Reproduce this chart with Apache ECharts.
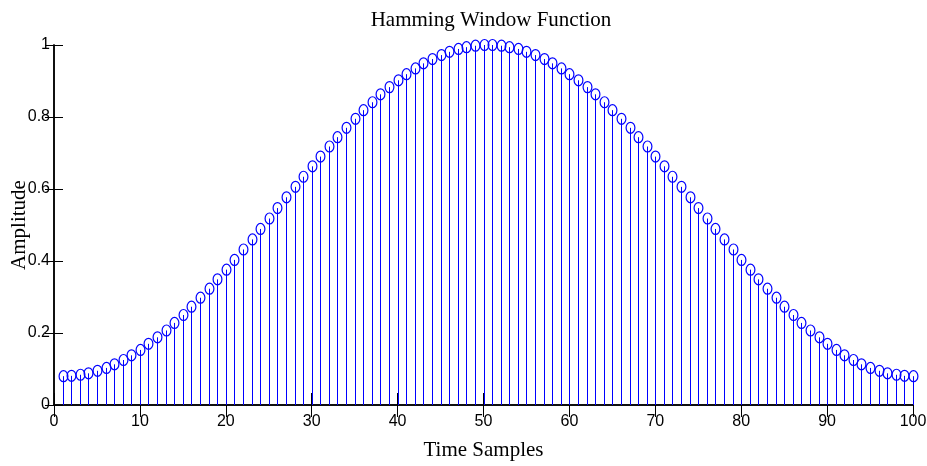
<!DOCTYPE html>
<html>
<head>
<meta charset="utf-8">
<script src="https://cdn.jsdelivr.net/npm/echarts@6/dist/echarts.min.js"></script>
<style>
html,body{margin:0;padding:0;background:#fff;}
#chart{width:927px;height:466px;}
</style>
</head>
<body>
<div id="chart"></div>
<script>
// Sample indices
var samples = [];
for (var i = 1; i <= 100; i++) samples.push(i);
// Amplitudes (first half, then mirrored half)
var amplitudeFirstHalf = [0.080,0.081,0.084,0.088,0.095,0.103,0.113,0.125,0.138,0.153,
  0.170,0.188,0.207,0.228,0.250,0.273,0.298,0.323,0.349,0.376,
  0.403,0.432,0.460,0.489,0.518,0.547,0.577,0.606,0.634,0.663,
  0.690,0.718,0.744,0.770,0.795,0.819,0.841,0.863,0.883,0.902,
  0.919,0.935,0.949,0.961,0.972,0.981,0.989,0.994,0.998,1.000];
var amplitudeSecondHalf = [1.000,0.998,0.994,0.989,0.981,0.972,0.961,0.949,0.935,0.919,
  0.902,0.883,0.863,0.841,0.819,0.795,0.770,0.744,0.718,0.690,
  0.663,0.634,0.606,0.577,0.547,0.518,0.489,0.460,0.432,0.403,
  0.376,0.349,0.323,0.298,0.273,0.250,0.228,0.207,0.188,0.170,
  0.153,0.138,0.125,0.113,0.103,0.095,0.088,0.084,0.081,0.080];
var amplitudes = amplitudeFirstHalf.concat(amplitudeSecondHalf);
var xTicks = [0,10,20,30,40,50,60,70,80,90,100];
var yTicks = [0,0.2,0.4,0.6,0.8,1];

var points = samples.map(function(s, i){ return [s, amplitudes[i]]; });

var chart = echarts.init(document.getElementById('chart'), null, {renderer:'canvas'});
var axisLine = {show:true, lineStyle:{color:'#000', width:1.5}};
var sans = '"Liberation Sans", Arial, sans-serif';
var labelFont = {fontFamily:sans, fontSize:16, color:'#000'};
var serif = '"Liberation Serif", "Times New Roman", serif';
chart.setOption({
  animation:false,
  backgroundColor:'#fff',
  title:{
    text:'Hamming Window Function',
    left:486, top:5, textAlign:'center',
    textStyle:{fontFamily:serif, fontSize:21, fontWeight:'normal', color:'#000'}
  },
  grid:{left:54, right:14, top:45, bottom:61, show:false, containLabel:false, outerBoundsMode:'none'},
  xAxis:[{
    type:'value', min:0, max:100, interval:10, position:'bottom',
    axisLine:axisLine,
    axisTick:{show:true, inside:true, length:12, lineStyle:{color:'#000', width:1}},
    axisLabel:Object.assign({margin:9}, labelFont),
    splitLine:{show:false},
    name:'Time Samples', nameLocation:'middle', nameGap:35, nameMoveOverlap:false,
    nameTextStyle:{fontFamily:serif, fontSize:21, color:'#000'}
  },{
    type:'value', min:0, max:100, interval:10, position:'top',
    axisLine:axisLine,
    axisTick:{show:true, inside:true, length:12, lineStyle:{color:'#000', width:1}},
    axisLabel:{show:false}, splitLine:{show:false}
  }],
  yAxis:[{
    type:'value', min:0, max:1, interval:0.2, position:'left',
    axisLine:axisLine,
    axisTick:{show:true, inside:true, length:9, lineStyle:{color:'#000', width:1}},
    axisLabel:Object.assign({margin:4}, labelFont),
    splitLine:{show:false},
    name:'Amplitude', nameLocation:'middle', nameGap:24, nameRotate:90, nameMoveOverlap:false,
    nameTextStyle:{fontFamily:serif, fontSize:21, color:'#000'}
  },{
    type:'value', min:0, max:1, interval:0.2, position:'right',
    axisLine:axisLine,
    axisTick:{show:true, inside:true, length:9, lineStyle:{color:'#000', width:1}},
    axisLabel:{show:false}, splitLine:{show:false}
  }],
  series:[{
    type:'custom',
    xAxisIndex:0, yAxisIndex:0,
    data:points,
    renderItem:function(params, api){
      var x = api.value(0), y = api.value(1);
      var p0 = api.coord([x, 0]);
      var p1 = api.coord([x, y]);
      var px = Math.round(p0[0]) + 0.5;
      return {
        type:'group',
        children:[{
          type:'line',
          shape:{x1:px, y1:p0[1], x2:px, y2:p1[1]},
          style:{stroke:'#0000ff', lineWidth:1, fill:null}
        },{
          type:'ellipse',
          shape:{cx:px, cy:p1[1], rx:4.4, ry:5.5},
          style:{stroke:'#0000ff', lineWidth:1.2, fill:'rgba(0,0,0,0)'}
        }]
      };
    },
    z:3
  }]
});
</script>
</body>
</html>
